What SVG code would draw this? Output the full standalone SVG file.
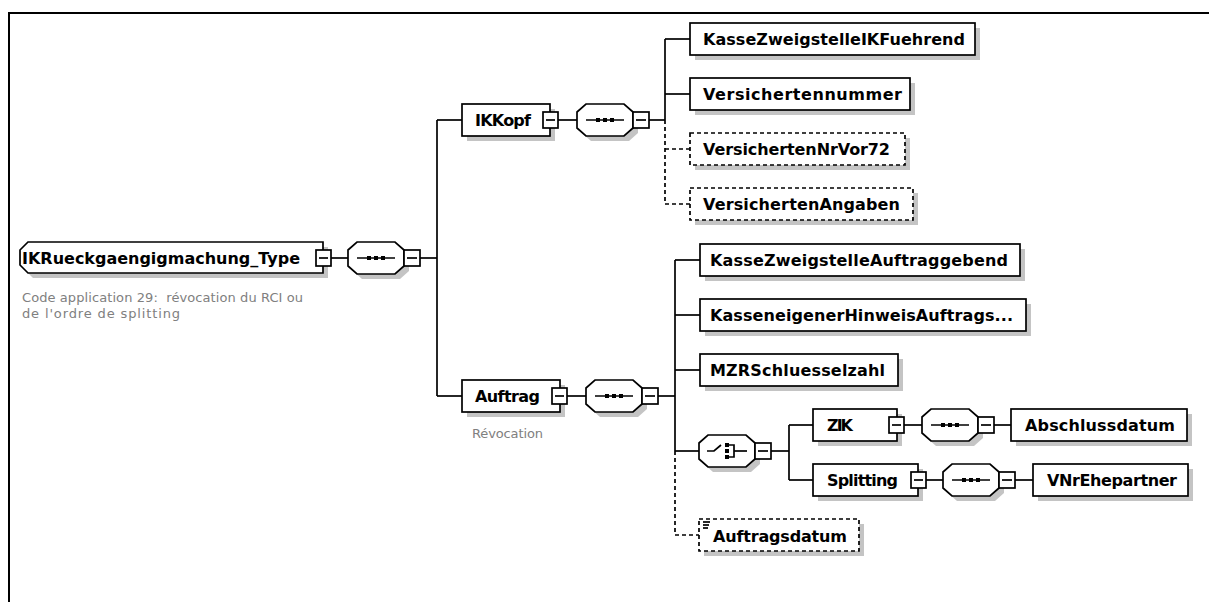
<svg xmlns="http://www.w3.org/2000/svg" xmlns:xlink="http://www.w3.org/1999/xlink" width="1209" height="602" viewBox="0 0 1209 602">
<style>
.box{fill:#fff;stroke:#000;stroke-width:1.7}
.opt{stroke-dasharray:4 3}
.sh{fill:#c4c4c4;stroke:none}
.lbl{font-family:"DejaVu Sans",sans-serif;font-weight:bold;font-size:16px;fill:#000}
.cmt{font-family:"DejaVu Sans",sans-serif;font-size:13px;fill:#808080}
.c{stroke:#000;stroke-width:1.7;fill:none}
.d{stroke-dasharray:4 3}
</style>
<defs>
<g id="mn">
<rect x="0" y="0" width="15" height="16" class="box"/>
<line x1="3" y1="8" x2="12" y2="8" class="c"/>
</g>
<polygon id="oct" points="9,0 47,0 56,8 56,24 47,32 9,32 0,24 0,8"/>
<g id="seq">
<use xlink:href="#oct" x="5" y="5" class="sh"/>
<use xlink:href="#oct" class="box"/>
<line x1="9" y1="16" x2="47" y2="16" class="c"/>
<rect x="19" y="14" width="4" height="4" fill="#000"/>
<rect x="26" y="14" width="4" height="4" fill="#000"/>
<rect x="33" y="14" width="4" height="4" fill="#000"/>
<rect x="56" y="8" width="16" height="16" class="box"/>
<line x1="59" y1="16" x2="69" y2="16" class="c"/>
</g>
<g id="cho">
<use xlink:href="#oct" x="5" y="5" class="sh"/>
<use xlink:href="#oct" class="box"/>
<polyline points="8,16 15,16 22,10" class="c"/>
<rect x="26" y="8" width="4" height="4" fill="#000"/>
<rect x="26" y="14" width="4" height="4" fill="#000"/>
<rect x="26" y="20" width="4" height="4" fill="#000"/>
<polyline points="30,10 35,10 35,22 30,22" class="c"/>
<line x1="35" y1="16" x2="48" y2="16" class="c"/>
<rect x="56" y="8" width="16" height="16" class="box"/>
<line x1="59" y1="16" x2="69" y2="16" class="c"/>
</g>
</defs>
<rect x="0" y="0" width="1209" height="602" fill="#fff"/>
<rect x="9" y="13" width="1220" height="620" fill="none" stroke="#000" stroke-width="2"/>
<g>
<g id="connectors">
<line x1="331" y1="258" x2="348" y2="258" class="c"/>
<line x1="420" y1="258" x2="437" y2="258" class="c"/>
<line x1="437" y1="120" x2="437" y2="396" class="c"/>
<line x1="437" y1="120" x2="462" y2="120" class="c"/>
<line x1="437" y1="396" x2="462" y2="396" class="c"/>
<line x1="558" y1="120" x2="577" y2="120" class="c"/>
<line x1="649" y1="120" x2="665" y2="120" class="c"/>
<line x1="665" y1="39" x2="665" y2="120" class="c"/>
<line x1="665" y1="120" x2="665" y2="204" class="c d"/>
<line x1="665" y1="39" x2="690" y2="39" class="c"/>
<line x1="665" y1="94" x2="690" y2="94" class="c"/>
<line x1="665" y1="149" x2="690" y2="149" class="c d"/>
<line x1="665" y1="204" x2="690" y2="204" class="c d"/>
<line x1="567" y1="396" x2="586" y2="396" class="c"/>
<line x1="658" y1="396" x2="675" y2="396" class="c"/>
<line x1="675" y1="260" x2="675" y2="451" class="c"/>
<line x1="675" y1="451" x2="675" y2="535" class="c d"/>
<line x1="675" y1="260" x2="700" y2="260" class="c"/>
<line x1="675" y1="315" x2="700" y2="315" class="c"/>
<line x1="675" y1="370" x2="700" y2="370" class="c"/>
<line x1="675" y1="451" x2="699" y2="451" class="c"/>
<line x1="675" y1="535" x2="699" y2="535" class="c d"/>
<line x1="771" y1="451" x2="789" y2="451" class="c"/>
<line x1="789" y1="425" x2="789" y2="480" class="c"/>
<line x1="789" y1="425" x2="813" y2="425" class="c"/>
<line x1="789" y1="480" x2="813" y2="480" class="c"/>
<line x1="904" y1="425" x2="922" y2="425" class="c"/>
<line x1="994" y1="425" x2="1011" y2="425" class="c"/>
<line x1="926" y1="480" x2="943" y2="480" class="c"/>
<line x1="1015" y1="480" x2="1033" y2="480" class="c"/>
</g>
<g id="n-root">
<polygon points="33,247 328,247 328,278 33,278 25,270 25,255" class="sh"/>
<polygon points="28,242 323,242 323,273 28,273 20,265 20,250" class="box"/>
<text x="22" y="264" class="lbl" textLength="278">IKRueckgaengigmachung_Type</text>
<use xlink:href="#mn" x="316" y="250"/>
<text x="22" y="302" class="cmt" textLength="281" xml:space="preserve">Code application 29:  révocation du RCI ou</text>
<text x="22" y="318" class="cmt" textLength="158">de l'ordre de splitting</text>
</g>
<g id="n-seq1"><use xlink:href="#seq" x="348" y="242"/></g>
<g id="n-ikkopf">
<rect x="467" y="109" width="88" height="32" class="sh"/>
<rect x="462" y="104" width="88" height="32" class="box"/>
<text x="475" y="126" class="lbl" textLength="56">IKKopf</text>
<use xlink:href="#mn" x="543" y="112"/>
</g>
<g id="n-seq2"><use xlink:href="#seq" x="577" y="104"/></g>
<g id="n-kzikf">
<rect x="695" y="28" width="285" height="32" class="sh"/>
<rect x="690" y="23" width="285" height="32" class="box"/>
<text x="703" y="45" class="lbl" textLength="262">KasseZweigstelleIKFuehrend</text>
</g>
<g id="n-vnr">
<rect x="695" y="83" width="220" height="32" class="sh"/>
<rect x="690" y="78" width="220" height="32" class="box"/>
<text x="703" y="100" class="lbl" textLength="199">Versichertennummer</text>
</g>
<g id="n-vor72">
<rect x="695" y="138" width="215" height="32" class="sh"/>
<rect x="690" y="133" width="215" height="32" class="box opt"/>
<text x="703" y="155" class="lbl" textLength="187">VersichertenNrVor72</text>
</g>
<g id="n-angaben">
<rect x="695" y="193" width="223" height="32" class="sh"/>
<rect x="690" y="188" width="223" height="32" class="box opt"/>
<text x="703" y="210" class="lbl" textLength="197">VersichertenAngaben</text>
</g>
<g id="n-auftrag">
<rect x="467" y="385" width="98" height="32" class="sh"/>
<rect x="462" y="380" width="98" height="32" class="box"/>
<text x="475" y="402" class="lbl" textLength="65">Auftrag</text>
<use xlink:href="#mn" x="552" y="388"/>
<text x="472" y="438" class="cmt" textLength="71">Révocation</text>
</g>
<g id="n-seq3"><use xlink:href="#seq" x="586" y="380"/></g>
<g id="n-kza">
<rect x="705" y="249" width="320" height="32" class="sh"/>
<rect x="700" y="244" width="320" height="32" class="box"/>
<text x="710" y="266" class="lbl" textLength="298">KasseZweigstelleAuftraggebend</text>
</g>
<g id="n-kh">
<rect x="705" y="304" width="326" height="32" class="sh"/>
<rect x="700" y="299" width="326" height="32" class="box"/>
<text x="710" y="321" class="lbl" textLength="303">KasseneigenerHinweisAuftrags...</text>
</g>
<g id="n-mzr">
<rect x="705" y="359" width="198" height="32" class="sh"/>
<rect x="700" y="354" width="198" height="32" class="box"/>
<text x="710" y="376" class="lbl" textLength="175">MZRSchluesselzahl</text>
</g>
<g id="n-choice"><use xlink:href="#cho" x="699" y="435"/></g>
<g id="n-zik">
<rect x="818" y="414" width="84" height="32" class="sh"/>
<rect x="813" y="409" width="84" height="32" class="box"/>
<text x="827" y="431" class="lbl" textLength="26">ZIK</text>
<use xlink:href="#mn" x="889" y="417"/>
</g>
<g id="n-seq4"><use xlink:href="#seq" x="922" y="409"/></g>
<g id="n-abschluss">
<rect x="1016" y="414" width="176" height="32" class="sh"/>
<rect x="1011" y="409" width="176" height="32" class="box"/>
<text x="1025" y="431" class="lbl" textLength="150">Abschlussdatum</text>
</g>
<g id="n-splitting">
<rect x="818" y="469" width="105" height="32" class="sh"/>
<rect x="813" y="464" width="105" height="32" class="box"/>
<text x="827" y="486" class="lbl" textLength="71">Splitting</text>
<use xlink:href="#mn" x="911" y="472"/>
</g>
<g id="n-seq5"><use xlink:href="#seq" x="943" y="464"/></g>
<g id="n-vnrehe">
<rect x="1038" y="469" width="155" height="32" class="sh"/>
<rect x="1033" y="464" width="155" height="32" class="box"/>
<text x="1047" y="486" class="lbl" textLength="130">VNrEhepartner</text>
</g>
<g id="n-auftragsdatum">
<rect x="704" y="524" width="160" height="32" class="sh"/>
<rect x="699" y="519" width="160" height="32" class="box opt"/>
<line x1="703" y1="522" x2="710" y2="522" class="c" stroke-width="1.2"/>
<line x1="703" y1="525" x2="709" y2="525" class="c" stroke-width="1.2"/>
<line x1="703" y1="528" x2="708" y2="528" class="c" stroke-width="1.2"/>
<text x="713" y="542" class="lbl" textLength="134">Auftragsdatum</text>
</g>
</g>
</svg>
